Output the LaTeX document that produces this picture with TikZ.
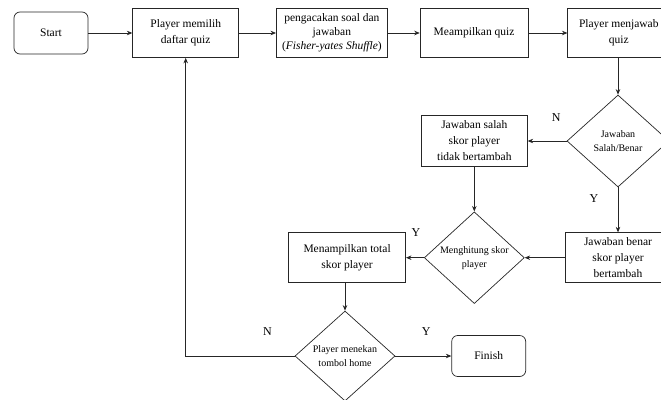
\documentclass[tikz,border=0pt]{standalone}
\usepackage{fontspec}
\setmainfont{Liberation Serif}
\usetikzlibrary{shapes.geometric, arrows.meta, positioning}

\begin{document}
\begin{tikzpicture}[x=1pt, y=1pt,
        box/.style={draw=black!85, line width=0.7pt, align=center, inner sep=0pt, minimum height=49pt, font=\fontsize{11.5}{16}\selectfont},
        term/.style={box, rounded corners=6pt, minimum width=74pt, minimum height=42pt},
        cond/.style={draw=black!85, line width=0.7pt, diamond, align=center, inner sep=0pt, minimum width=100pt, minimum height=90pt, font=\fontsize{10}{14}\selectfont},
        lbl/.style={font=\fontsize{12}{12}\selectfont},
        flow/.style={draw=black!85, line width=0.7pt, -{Stealth[length=5.5pt, width=4.5pt]}}
    ]
        \clip (0,0) rectangle (661,-399);
        \node[term] (start) at (51,-33) {Start};
        \node[box, minimum width=106pt, right=44pt of start] (pilih) {Player memilih\\daftar quiz};
        \node[box, minimum width=111pt, right=37pt of pilih, font=\fontsize{11.5}{14}\selectfont] (acak) {pengacakan soal dan\\jawaban\\(\textit{Fisher-yates Shuffle})};
        \node[box, minimum width=108pt, right=32pt of acak] (tampil) {Meampilkan quiz};
        \node[box, minimum width=102pt, right=39pt of tampil] (jawab) {Player menjawab\\quiz};
        \node[cond, minimum width=102pt, minimum height=92pt] (cek) at (618,-141) {Jawaban\\Salah/Benar};
        \node[box, minimum width=106pt, minimum height=51pt, left=39pt of cek] (salah) {Jawaban salah\\skor player\\tidak bertambah};
        \node[box, minimum width=106pt, minimum height=50pt, below=45pt of cek] (benar) {Jawaban benar\\skor player\\bertambah};
        \node[cond, left=40pt of benar] (hitung) {Menghitung skor\\player};
        \node[box, minimum width=117pt, minimum height=50pt, left=18pt of hitung] (total) {Menampilkan total\\skor player};
        \node[cond] (home) at (345,-356) {Player menekan\\tombol home};
        \node[term, minimum height=41pt, right=56pt of home] (finish) {Finish};
        \coordinate (balik) at (pilih.south |- home.west);

        \draw[flow] (start) -- (pilih);
        \draw[flow] (pilih) -- (acak);
        \draw[flow] (acak) -- (tampil);
        \draw[flow] (tampil) -- (jawab);
        \draw[flow] (jawab.south -| cek.north) -- (cek);
        \draw[flow] (cek) -- node[lbl, pos=0.27, above=16pt] {N} (salah);
        \draw[flow] (cek) -- node[lbl, pos=0.25, left=16pt] {Y} (benar);
        \draw[flow] (salah.south -| hitung.north) -- (hitung);
        \draw[flow] (benar) -- (hitung);
        \draw[flow] (hitung) -- node[lbl, pos=0.45, above=18pt] {Y} (total);
        \draw[flow] (total.south -| home.north) -- (home);
        \draw[flow] (home) -- node[lbl, pos=0.55, above=17pt] {Y} (finish);
        \draw[flow] (home) -- node[lbl, pos=0.25, above=17pt] {N} (balik) -- (pilih);
    \end{tikzpicture}
\end{document}
